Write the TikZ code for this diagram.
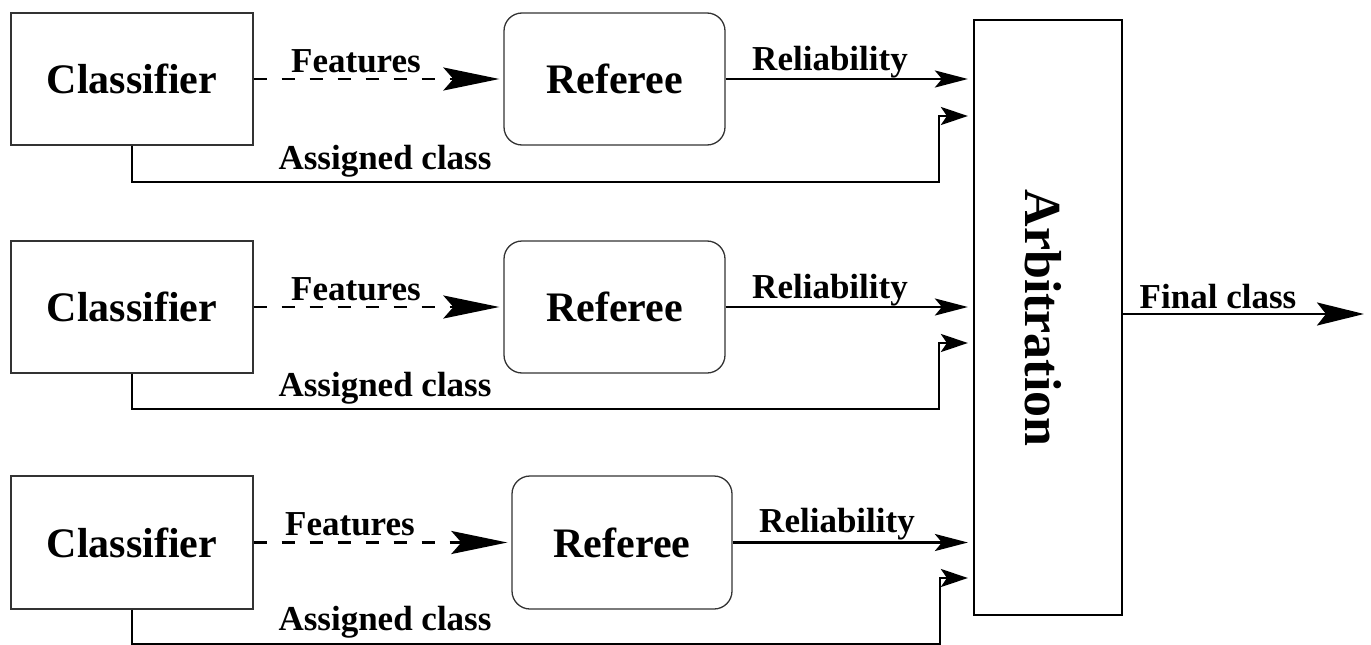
\documentclass[tikz,border=0pt]{standalone}
\usepackage{fontspec}
\setmainfont{Liberation Serif}
\usetikzlibrary{arrows.meta}
\begin{document}
\begin{tikzpicture}[x=1pt,y=-1pt,
  box/.style={draw=black!80, line width=1.3pt, minimum width=242pt, minimum height=132pt,
    font=\fontsize{42}{46}\selectfont\bfseries, inner sep=0pt},
  refbox/.style={box, rounded corners=18pt, minimum width=221pt},
  lbl/.style={font=\fontsize{35}{39}\selectfont\bfseries, inner sep=0pt},
  conn/.style={line width=2.6pt},
  bigtip/.style={-{Stealth[length=56pt,width=23pt,inset=10pt]}},
  midtip/.style={-{Stealth[length=33pt,width=17pt,inset=7pt]}},
  smalltip/.style={-{Stealth[length=27pt,width=18pt,inset=6pt]}},
]
\useasboundingbox (0,0) rectangle (1371,645);

% arbitration block
\node[draw=black, line width=2.2pt, minimum width=148pt, minimum height=595pt, inner sep=0pt]
  (arb) at (1048,317.5) {};
\node[font=\fontsize{52}{56}\selectfont\bfseries, rotate=-90] (arbtxt) at (1043,318) {Arbitration};

% classifier / referee pairs
\node[box] (c1) at (132,79) {Classifier};
\node[refbox] (r1) at (614.5,79) {Referee};
\node[box] (c2) at (132,307) {Classifier};
\node[refbox] (r2) at (614.5,307) {Referee};
\node[box, minimum height=133pt] (c3) at (132,542.5) {Classifier};
\node[refbox, minimum height=133pt, minimum width=220pt] (r3) at (622,542.5) {Referee};

% labels
\node[lbl] (f1) at (356,61) {Features};
\node[lbl] (f2) at (356,289) {Features};
\node[lbl] (f3) at (350,524) {Features};
\node[lbl] (rl1) at (830,62) {Reliability};
\node[lbl] (rl2) at (830,290) {Reliability};
\node[lbl] (rl3) at (837,524) {Reliability};
\node[lbl] (a1) at (385,161) {Assigned class};
\node[lbl] (a2) at (385,388) {Assigned class};
\node[lbl] (a3) at (385,622) {Assigned class};
\node[lbl] (fc) at (1218,297) {Final class};

% features (dashed)
\foreach \c/\r in {c1/r1,c2/r2,c3/r3}
  \draw[conn, dash pattern=on 13pt off 15pt, bigtip, shorten >=4pt] (\c.east) -- (\r.west);

% reliability
\foreach \r in {r1,r2,r3}
  \draw[conn, midtip, shorten >=5pt] (\r.east) -- (\r.east -| arb.west);

% assigned class
\draw[conn, smalltip, shorten >=5pt] (c1.south) -- (c1.south |- 0,182) -- (939,182) -- (939,116) -- (arb.west |- 0,116);
\draw[conn, smalltip, shorten >=5pt] (c2.south) -- (c2.south |- 0,409) -- (939,409) -- (939,343) -- (arb.west |- 0,343);
\draw[conn, smalltip, shorten >=5pt] (c3.south) -- (c3.south |- 0,644) -- (940,644) -- (940,578) -- (arb.west |- 0,578);

% final class
\coordinate (out) at (1364,314);
\draw[conn, -{Stealth[length=47pt,width=23pt,inset=9pt]}] (arb.east |- out) -- (out);
\end{tikzpicture}
\end{document}
